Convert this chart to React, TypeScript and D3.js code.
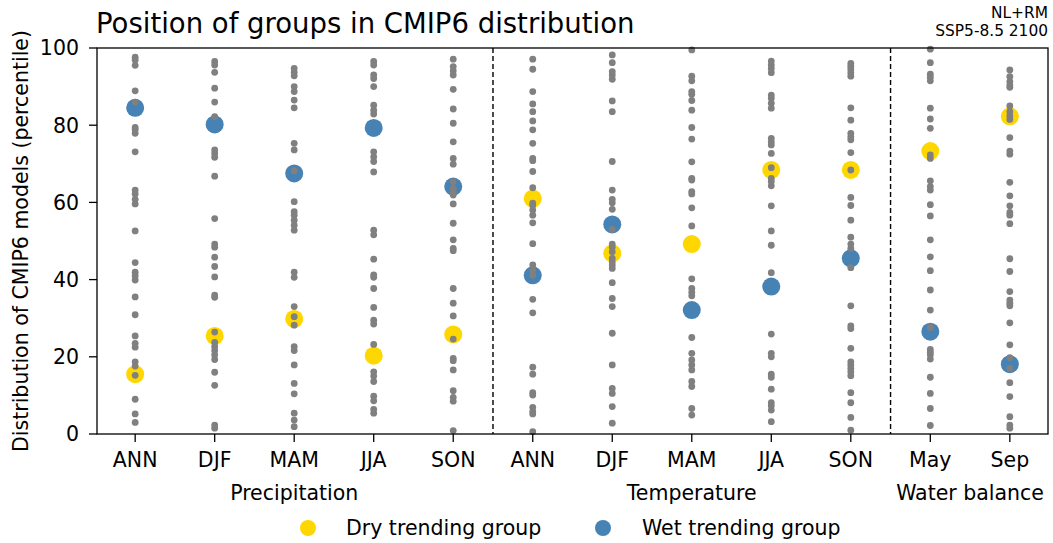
import React from "react";
import * as d3 from "d3";

// columns on the x axis
const seasons = ["ANN", "DJF", "MAM", "JJA", "SON", "ANN", "DJF", "MAM", "JJA", "SON", "May", "Sep"];
const groupLabels = [
  { label: "Precipitation", at: 2 },
  { label: "Temperature", at: 7 },
  { label: "Water balance", at: 10.5 },
];
const separators = [4.5, 9.5];
const yTicks = [0, 20, 40, 60, 80, 100];

// percentile of each CMIP6 model, per column
const precANN = [97.6, 96.9, 95.5, 88.9, 86.0, 79.4, 78.8, 77.9, 73.1, 63.2, 62.2, 60.8, 59.6, 52.6, 44.4, 41.9, 41.0, 39.9, 35.5, 30.9, 25.4, 23.5, 22.5, 18.7, 17.6, 15.2, 9.0, 5.2, 3.0];
const precDJF = [96.5, 95.6, 93.7, 89.6, 86.0, 82.2, 73.6, 72.7, 71.7, 66.8, 55.8, 49.2, 48.4, 45.8, 43.4, 40.7, 36.0, 35.4, 26.4, 23.7, 22.6, 21.6, 20.5, 19.3, 16.0, 12.6, 2.3, 1.5];
const precMAM = [94.7, 93.7, 92.8, 90.0, 88.7, 86.5, 84.5, 75.3, 73.6, 68.2, 60.2, 57.6, 56.7, 55.4, 54.1, 52.8, 41.9, 40.6, 33.0, 30.4, 28.2, 22.6, 21.6, 17.9, 13.1, 10.4, 5.4, 3.6, 1.9];
const precJJA = [96.5, 95.6, 93.0, 92.1, 90.0, 85.2, 83.9, 82.9, 73.1, 71.8, 70.6, 67.9, 52.8, 51.6, 45.3, 41.2, 40.6, 37.7, 32.8, 29.5, 28.5, 23.2, 16.1, 15.0, 13.6, 9.8, 8.6, 6.4, 5.4];
const precSON = [97.1, 95.2, 94.1, 93.0, 89.3, 84.2, 80.5, 75.7, 71.4, 69.9, 65.4, 63.6, 62.5, 61.9, 59.6, 54.6, 50.3, 48.1, 47.5, 37.7, 33.9, 30.6, 24.6, 19.6, 19.0, 16.6, 11.2, 9.5, 8.5, 0.9];
const tempANN = [97.1, 94.5, 88.7, 85.5, 83.5, 81.1, 78.8, 75.3, 71.4, 70.8, 68.0, 63.8, 59.8, 59.2, 58.0, 56.7, 54.7, 49.3, 43.8, 42.5, 41.1, 34.9, 31.4, 17.3, 15.5, 10.7, 10.1, 6.9, 5.8, 5.2, 0.6];
const tempDJF = [98.2, 96.2, 93.9, 93.0, 91.9, 86.3, 83.5, 70.6, 63.2, 60.8, 59.9, 58.2, 53.0, 49.2, 48.4, 47.2, 45.5, 44.6, 43.8, 42.9, 39.2, 35.1, 33.0, 26.1, 17.9, 11.8, 10.5, 7.1, 2.8];
const tempMAM = [99.5, 92.7, 91.5, 88.7, 88.0, 86.4, 83.9, 79.4, 76.4, 70.5, 66.2, 65.8, 62.8, 62.2, 58.6, 53.9, 40.2, 37.7, 36.7, 35.8, 25.0, 20.9, 19.2, 17.9, 16.6, 13.6, 12.3, 6.6, 4.9];
const tempJJA = [96.6, 95.6, 94.7, 93.6, 87.8, 87.0, 85.7, 84.4, 76.6, 75.7, 74.9, 72.7, 69.0, 66.2, 65.4, 64.3, 59.1, 52.6, 48.9, 41.8, 25.9, 20.9, 20.0, 15.5, 14.7, 11.6, 8.1, 7.3, 6.2, 3.2];
const tempSON = [96.0, 95.3, 94.5, 93.6, 92.7, 84.5, 81.3, 77.9, 77.0, 76.2, 72.9, 68.4, 61.3, 59.2, 55.4, 51.0, 49.2, 48.1, 43.1, 33.2, 28.0, 27.3, 22.2, 18.7, 17.9, 17.0, 16.1, 15.1, 10.7, 8.1, 4.3, 1.0];
const wbMay = [99.7, 96.2, 93.2, 92.4, 91.5, 84.4, 81.6, 79.2, 72.3, 71.4, 65.6, 64.1, 63.2, 59.4, 56.5, 50.3, 45.9, 42.3, 37.3, 32.1, 27.6, 21.9, 21.2, 20.5, 19.4, 14.7, 10.5, 6.6, 2.2];
const wbSep = [94.3, 92.6, 91.3, 90.4, 89.8, 85.0, 83.5, 82.4, 81.5, 76.8, 73.3, 72.5, 65.2, 61.7, 59.1, 57.4, 56.7, 54.5, 45.4, 42.1, 36.9, 34.7, 33.9, 33.2, 28.8, 23.1, 19.8, 17.0, 13.3, 9.7, 4.5, 2.3, 1.5];
const models = [precANN, precDJF, precMAM, precJJA, precSON, tempANN, tempDJF, tempMAM, tempJJA, tempSON, wbMay, wbSep];

// group positions
const dryGroup = [15.5, 25.4, 29.8, 20.3, 25.8, 61.0, 46.8, 49.2, 68.4, 68.4, 73.3, 82.3];
const wetGroup = [84.5, 80.2, 67.5, 79.3, 64.1, 41.1, 54.3, 32.1, 38.2, 45.5, 26.5, 18.1];

const W = 1053;
const H = 543;
const m = { left: 97, right: 1048, top: 48, bottom: 434 };
const font = "DejaVu Sans, sans-serif";
const fs = 20.5;

const App = () => {
  const x = d3.scaleLinear().domain([-0.48, 11.48]).range([m.left, m.right]);
  const y = d3.scaleLinear().domain([0, 100]).range([m.bottom, m.top]);

  return (
    <svg width={W} height={H} style={{ position: "absolute", left: 0, top: 0 }} fontFamily={font}>
      <rect width={W} height={H} fill="white" />

      {separators.map((s) => (
        <line key={s} x1={x(s)} x2={x(s)} y1={m.top} y2={m.bottom} stroke="black" strokeWidth={1.4} strokeDasharray="5,3" />
      ))}

      {seasons.map((_, i) => (
        <g key={i}>
          <circle cx={x(i)} cy={y(dryGroup[i])} r={9} fill="#FFD700" />
          <circle cx={x(i)} cy={y(wetGroup[i])} r={9} fill="#4682B4" />
          {models[i].map((v, j) => (
            <circle key={j} cx={x(i)} cy={y(v)} r={3.4} fill="#808080" />
          ))}
        </g>
      ))}

      <rect x={m.left} y={m.top} width={m.right - m.left} height={m.bottom - m.top} fill="none" stroke="black" strokeWidth={1.3} />

      {yTicks.map((t) => (
        <g key={t}>
          <line x1={m.left - 8} x2={m.left} y1={y(t)} y2={y(t)} stroke="black" strokeWidth={1.3} />
          <text x={m.left - 18} y={y(t)} dy="0.36em" textAnchor="end" fontSize={fs}>{t}</text>
        </g>
      ))}

      {seasons.map((s, i) => (
        <g key={i}>
          <line x1={x(i)} x2={x(i)} y1={m.bottom} y2={m.bottom + 8} stroke="black" strokeWidth={1.3} />
          <text x={x(i)} y={467} textAnchor="middle" fontSize={fs}>{s}</text>
        </g>
      ))}

      {groupLabels.map((g) => (
        <text key={g.label} x={x(g.at)} y={500} textAnchor="middle" fontSize={fs}>{g.label}</text>
      ))}

      <text transform={`translate(28,${(m.top + m.bottom) / 2}) rotate(-90)`} textAnchor="middle" fontSize={fs}>
        Distribution of CMIP6 models (percentile)
      </text>

      <text x={96} y={33} fontSize={27.5}>Position of groups in CMIP6 distribution</text>
      <text x={m.right} y={18} textAnchor="end" fontSize={15.4}>NL+RM</text>
      <text x={m.right} y={36} textAnchor="end" fontSize={15.4}>SSP5-8.5 2100</text>

      <circle cx={308} cy={528} r={8} fill="#FFD700" />
      <text x={346} y={535} fontSize={fs}>Dry trending group</text>
      <circle cx={603} cy={528} r={8} fill="#4682B4" />
      <text x={642} y={535} fontSize={fs}>Wet trending group</text>
    </svg>
  );
};

export default App;
